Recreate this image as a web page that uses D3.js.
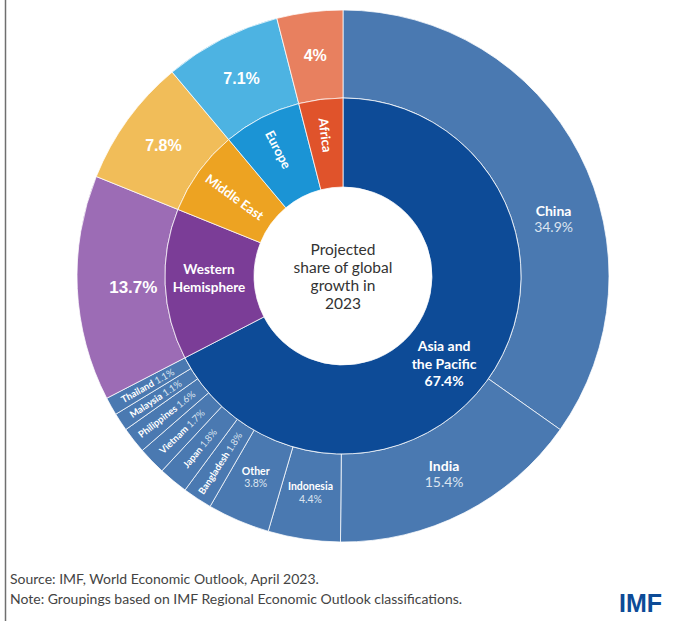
<!DOCTYPE html>
<html>
<head>
<meta charset="utf-8">
<script src="https://cdn.jsdelivr.net/npm/d3@7"></script>
<style>
  body { margin: 0; background: #fff; }
  svg { display: block; }
</style>
</head>
<body>
<div id="chart"></div>
<script>
// regional shares of projected global growth, 2023 (percent)
var regions = ["Asia and the Pacific", "Western Hemisphere", "Middle East", "Europe", "Africa"]
var regionShares = [67.4, 13.7, 7.8, 7.1, 4]
var regionLabels = ["67.4%", "13.7%", "7.8%", "7.1%", "4%"]

// breakdown of Asia and the Pacific
var asiaCountries = ["China", "India", "Indonesia", "Other", "Bangladesh", "Japan",
    "Vietnam", "Philippines", "Malaysia", "Thailand"]
var asiaShares = [34.9, 15.4, 4.4, 3.8, 1.8, 1.8, 1.7, 1.6, 1.1, 1.1]

var innerColors = ["#0d4b97", "#7b3d97", "#eda322", "#1b94d5", "#e0532b"]
var outerColors = ["#4a79b1", "#9c6cb5", "#f1bd59", "#4db3e2", "#e8805f"]

var width = 678, height = 621
var cx = 343, cy = 276
var r0 = 89, r1 = 178, r2 = 266

var svg = d3.select("#chart").append("svg")
    .attr("width", width)
    .attr("height", height)

// left frame rule
svg.append("line")
    .attr("x1", 5.5).attr("x2", 5.5)
    .attr("y1", 0).attr("y2", height)
    .attr("stroke", "#6f6f6f")
    .attr("stroke-width", 1.5)

var g = svg.append("g").attr("transform", `translate(${cx},${cy})`)

var deg = Math.PI / 180

var pie = d3.pie().sort(null).value(function (d) { return d })
var regionArcs = pie(regionShares)
var asia = regionArcs[0]

var asiaArcs = d3.pie().sort(null).value(function (d) { return d })
    .startAngle(asia.startAngle).endAngle(asia.endAngle)(asiaShares)

var innerArc = d3.arc().innerRadius(r0).outerRadius(r1)
var outerArc = d3.arc().innerRadius(r1).outerRadius(r2)

// outer ring: Asia countries, then the other regions repeated
var outerData = asiaArcs.map(function (a, i) {
    return { arc: a, color: outerColors[0], name: asiaCountries[i], pct: asiaShares[i] + "%" }
})
regionArcs.slice(1).forEach(function (a, i) {
    outerData.push({ arc: a, color: outerColors[i + 1], name: null, pct: regionLabels[i + 1] })
})

g.selectAll("path.outer")
    .data(outerData)
    .enter().append("path")
    .attr("class", "outer")
    .attr("d", function (d) { return outerArc(d.arc) })
    .attr("fill", function (d) { return d.color })
    .attr("stroke", "rgba(255,255,255,0.75)")
    .attr("stroke-width", 1)

g.selectAll("path.inner")
    .data(regionArcs)
    .enter().append("path")
    .attr("class", "inner")
    .attr("d", innerArc)
    .attr("fill", function (d, i) { return innerColors[i] })
    .attr("stroke", "rgba(255,255,255,0.75)")
    .attr("stroke-width", 1)

function polar(angleDeg, r) {
    return [r * Math.sin(angleDeg * deg), -r * Math.cos(angleDeg * deg)]
}
function midDeg(a) { return (a.startAngle + a.endAngle) / 2 / deg }

var nameFont = "Lato, 'Open Sans', sans-serif"
var bigFont = "'Liberation Sans', Arial, sans-serif"

// multi-line centered label
function stack(x, y, lines, gap) {
    var t = g.append("text")
        .attr("text-anchor", "middle")
        .attr("font-family", nameFont)
        .attr("fill", "#fff")
    var top = y - (lines.length - 1) * gap / 2
    lines.forEach(function (l, i) {
        t.append("tspan")
            .attr("x", x)
            .attr("y", top + i * gap)
            .attr("dy", "0.35em")
            .attr("font-size", l.size)
            .attr("font-weight", l.bold ? 700 : 400)
            .attr("fill", l.color || "#fff")
            .text(l.text)
    })
}

var pale = "#dbe4f0"

// big country labels
var p = polar(75, 218)
stack(p[0], p[1], [{ text: "China", size: 14, bold: true }, { text: "34.9%", size: 14, color: pale }], 16)
p = outerArc.centroid(asiaArcs[1])
stack(p[0], p[1], [{ text: "India", size: 14, bold: true }, { text: "15.4%", size: 14, color: pale }], 16)
p = outerArc.centroid(asiaArcs[2])
stack(p[0], p[1] - 3, [{ text: "Indonesia", size: 10.5, bold: true }, { text: "4.4%", size: 10.5, color: pale }], 12.5)
p = outerArc.centroid(asiaArcs[3])
stack(p[0], p[1] - 3, [{ text: "Other", size: 10.5, bold: true }, { text: "3.8%", size: 10.5, color: pale }], 12.5)

// small Asian economies, written along the radius
outerData.slice(4, 10).forEach(function (d) {
    var a = midDeg(d.arc)
    var c = polar(a, 224)
    var t = g.append("text")
        .attr("transform", `translate(${c[0]},${c[1]}) rotate(${a - 270})`)
        .attr("text-anchor", "middle")
        .attr("dy", "0.35em")
        .attr("font-family", nameFont)
        .attr("font-size", 9.5)
        .attr("fill", "#fff")
    t.append("tspan").attr("font-weight", 700).text(d.name + " ")
    t.append("tspan").attr("fill", pale).text(d.pct)
})

// outer percentages of the other regions
outerData.slice(10).forEach(function (d, i) {
    var a = i === 0 ? 267 : midDeg(d.arc)
    var c = polar(a, i === 0 ? 210 : 222)
    g.append("text")
        .attr("x", c[0]).attr("y", c[1])
        .attr("dy", "0.35em")
        .attr("text-anchor", "middle")
        .attr("font-family", bigFont)
        .attr("font-weight", 700)
        .attr("font-size", i === 0 ? 17 : 16)
        .attr("fill", "#fff")
        .text(d.pct)
})

// inner ring labels
p = polar(131, 134)
stack(p[0], p[1], [{ text: "Asia and", size: 14, bold: true }, { text: "the Pacific", size: 14, bold: true },
    { text: "67.4%", size: 14, bold: true }], 17.5)
p = polar(269, 134)
stack(p[0], p[1], [{ text: "Western", size: 13.5, bold: true }, { text: "Hemisphere", size: 13.5, bold: true }], 18)

;[2, 3, 4].forEach(function (i) {
    var a = midDeg(regionArcs[i])
    var c = polar(a, i === 2 ? 134 : 142)
    g.append("text")
        .attr("transform", `translate(${c[0]},${c[1]}) rotate(${a - 270})`)
        .attr("text-anchor", "middle")
        .attr("dy", "0.35em")
        .attr("font-family", nameFont)
        .attr("font-weight", 700)
        .attr("font-size", 13)
        .attr("fill", "#fff")
        .text(regions[i])
})

// centre caption
var caption = ["Projected", "share of global", "growth in", "2023"]
g.append("text")
    .attr("text-anchor", "middle")
    .attr("font-family", nameFont)
    .attr("font-size", 15.5)
    .attr("fill", "#333")
    .selectAll("tspan")
    .data(caption)
    .enter().append("tspan")
    .attr("x", 0)
    .attr("y", function (d, i) { return -26 + i * 18 })
    .attr("dy", "0.35em")
    .text(function (d) { return d })

// footer
var notes = ["Source: IMF, World Economic Outlook, April 2023.",
    "Note: Groupings based on IMF Regional Economic Outlook classifications."]
svg.selectAll("text.note")
    .data(notes)
    .enter().append("text")
    .attr("class", "note")
    .attr("x", 10)
    .attr("y", function (d, i) { return 584 + i * 20 })
    .attr("font-family", nameFont)
    .attr("font-size", 14)
    .attr("fill", "#444")
    .text(function (d) { return d })

svg.append("text")
    .attr("x", 662).attr("y", 612)
    .attr("text-anchor", "end")
    .attr("font-family", bigFont)
    .attr("font-weight", 700)
    .attr("font-size", 25)
    .attr("fill", "#0d4b97")
    .text("IMF")
</script>
</body>
</html>
